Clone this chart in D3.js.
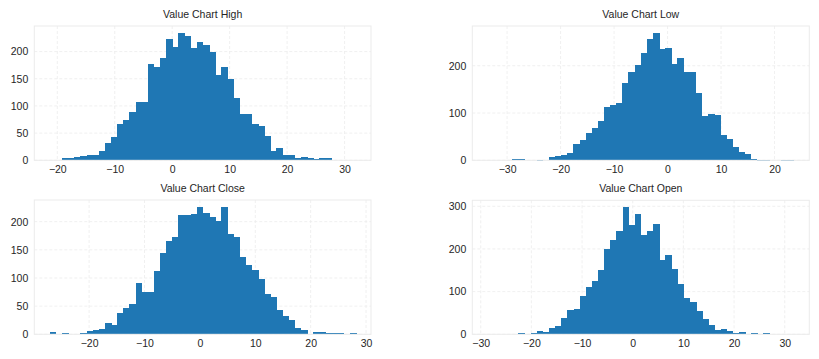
<!DOCTYPE html>
<html><head><meta charset="utf-8">
<script src="https://cdn.jsdelivr.net/npm/d3@7"></script>
<style>
html,body{margin:0;padding:0;background:#fff;}
svg text{font-family:"Liberation Sans",Arial,sans-serif;fill:#262626;}
</style></head>
<body><svg id="chart" width="819" height="359"></svg>
<script>
// ---- data (histogram counts, 50 bins each) ----
const titles = ["Value Chart High", "Value Chart Low", "Value Chart Close", "Value Chart Open"];
const highCounts = [0,0,4,4,6,7,9,9,18,31,42,66,74,88,108,107,177,171,188,223,208,234,229,206,217,212,199,156,171,149,114,86,86,66,64,44,18,23,9,9,4,6,4,2,4,4,0,0,0,0];
const lowCounts = [0,0,0,0,2,2,0,0,1,0,6,10,12,16,35,42,57,69,84,112,116,122,163,186,201,226,256,269,235,237,203,217,186,186,143,93,97,95,54,44,29,18,14,2,1,1,0,0,1,1];
const closeCounts = [4,0,2,0,0,2,5,7,9,20,16,37,46,53,91,76,76,112,144,165,172,211,211,213,226,215,208,202,226,178,172,137,123,114,98,71,67,43,32,25,12,8,0,4,4,2,2,2,0,2];
const openCounts = [0,0,0,0,0,2,0,4,7,5,14,19,38,56,59,89,112,124,150,199,220,241,298,255,281,232,241,258,173,185,152,117,84,75,54,35,21,9,12,7,2,5,0,2,0,2,0,0,0,0];
// bin start value and bin width for each series
const binStarts = [-21.3, -33.6, -27.1, -28.6];
const binWidths = [1.066, 1.143, 1.106, 1.209];
// axis limits
const xDomains = [[-24.0, 34.6], [-36.5, 26.5], [-29.9, 30.9], [-31.66, 34.85]];
const yMaxes = [247, 284, 238.5, 314];
const xTicks = [[-20,-10,0,10,20,30], [-30,-20,-10,0,10,20], [-20,-10,0,10,20,30], [-30,-20,-10,0,10,20,30]];
const yTicks = [[0,50,100,150,200], [0,100,200], [0,50,100,150,200], [0,100,200,300]];

const allCounts = [highCounts, lowCounts, closeCounts, openCounts];
const boxes = [
  {x0:34.3, x1:371, y0:26, y1:160.3},
  {x0:472.3, x1:809.3, y0:26, y1:160.3},
  {x0:34.3, x1:371, y0:200, y1:334.3},
  {x0:472.3, x1:809.3, y0:200.3, y1:334.3}
];
const fmt = v => (v < 0 ? "\u2212" + Math.abs(v) : String(v));
const svg = d3.select("#chart");

allCounts.forEach((counts, k) => {
  const b = boxes[k];
  const x = d3.scaleLinear().domain(xDomains[k]).range([b.x0, b.x1]);
  const y = d3.scaleLinear().domain([0, yMaxes[k]]).range([b.y1, b.y0]);
  const g = svg.append("g");
  const bins = counts.map((c, i) => ({x0: binStarts[k] + i*binWidths[k], x1: binStarts[k] + (i+1)*binWidths[k], c}));

  // grid
  g.append("g").selectAll("line").data(xTicks[k]).join("line")
    .attr("x1", d => x(d)).attr("x2", d => x(d)).attr("y1", b.y0).attr("y2", b.y1)
    .attr("stroke", "#ececec").attr("stroke-width", 0.8).attr("stroke-dasharray", "3,2");
  g.append("g").selectAll("line").data(yTicks[k]).join("line")
    .attr("x1", b.x0).attr("x2", b.x1).attr("y1", d => y(d)).attr("y2", d => y(d))
    .attr("stroke", "#ececec").attr("stroke-width", 0.8).attr("stroke-dasharray", "3,2");

  // bars
  g.append("g").attr("shape-rendering", "crispEdges")
    .selectAll("rect").data(bins.filter(d => d.c > 0)).join("rect")
    .attr("x", d => x(d.x0)).attr("width", d => x(d.x1) - x(d.x0) + 0.5)
    .attr("y", d => y(d.c)).attr("height", d => Math.max(0.8, y(0) - y(d.c)))
    .attr("fill", "#1f77b4");

  // frame
  g.append("rect").attr("x", b.x0).attr("y", b.y0).attr("width", b.x1 - b.x0).attr("height", b.y1 - b.y0)
    .attr("fill", "none").attr("stroke", "#ebebeb").attr("stroke-width", 1);

  // axes (labels only)
  const xa = d3.axisBottom(x).tickValues(xTicks[k]).tickFormat(fmt).tickSize(0).tickPadding(5);
  const xg = g.append("g").attr("transform", `translate(0,${b.y1})`).call(xa);
  const ya = d3.axisLeft(y).tickValues(yTicks[k]).tickFormat(fmt).tickSize(0).tickPadding(6);
  const yg = g.append("g").attr("transform", `translate(${b.x0},0)`).call(ya);
  [xg, yg].forEach(a => {
    a.select(".domain").remove();
    a.selectAll("text").attr("font-size", 10.5).attr("fill", "#262626")
      .style("font-family", '"Liberation Sans", Arial, sans-serif');
  });

  // title
  g.append("text").attr("x", (b.x0 + b.x1) / 2).attr("y", b.y0 - 8)
    .attr("text-anchor", "middle").attr("font-size", 10.5).text(titles[k]);
});
</script></body></html>
